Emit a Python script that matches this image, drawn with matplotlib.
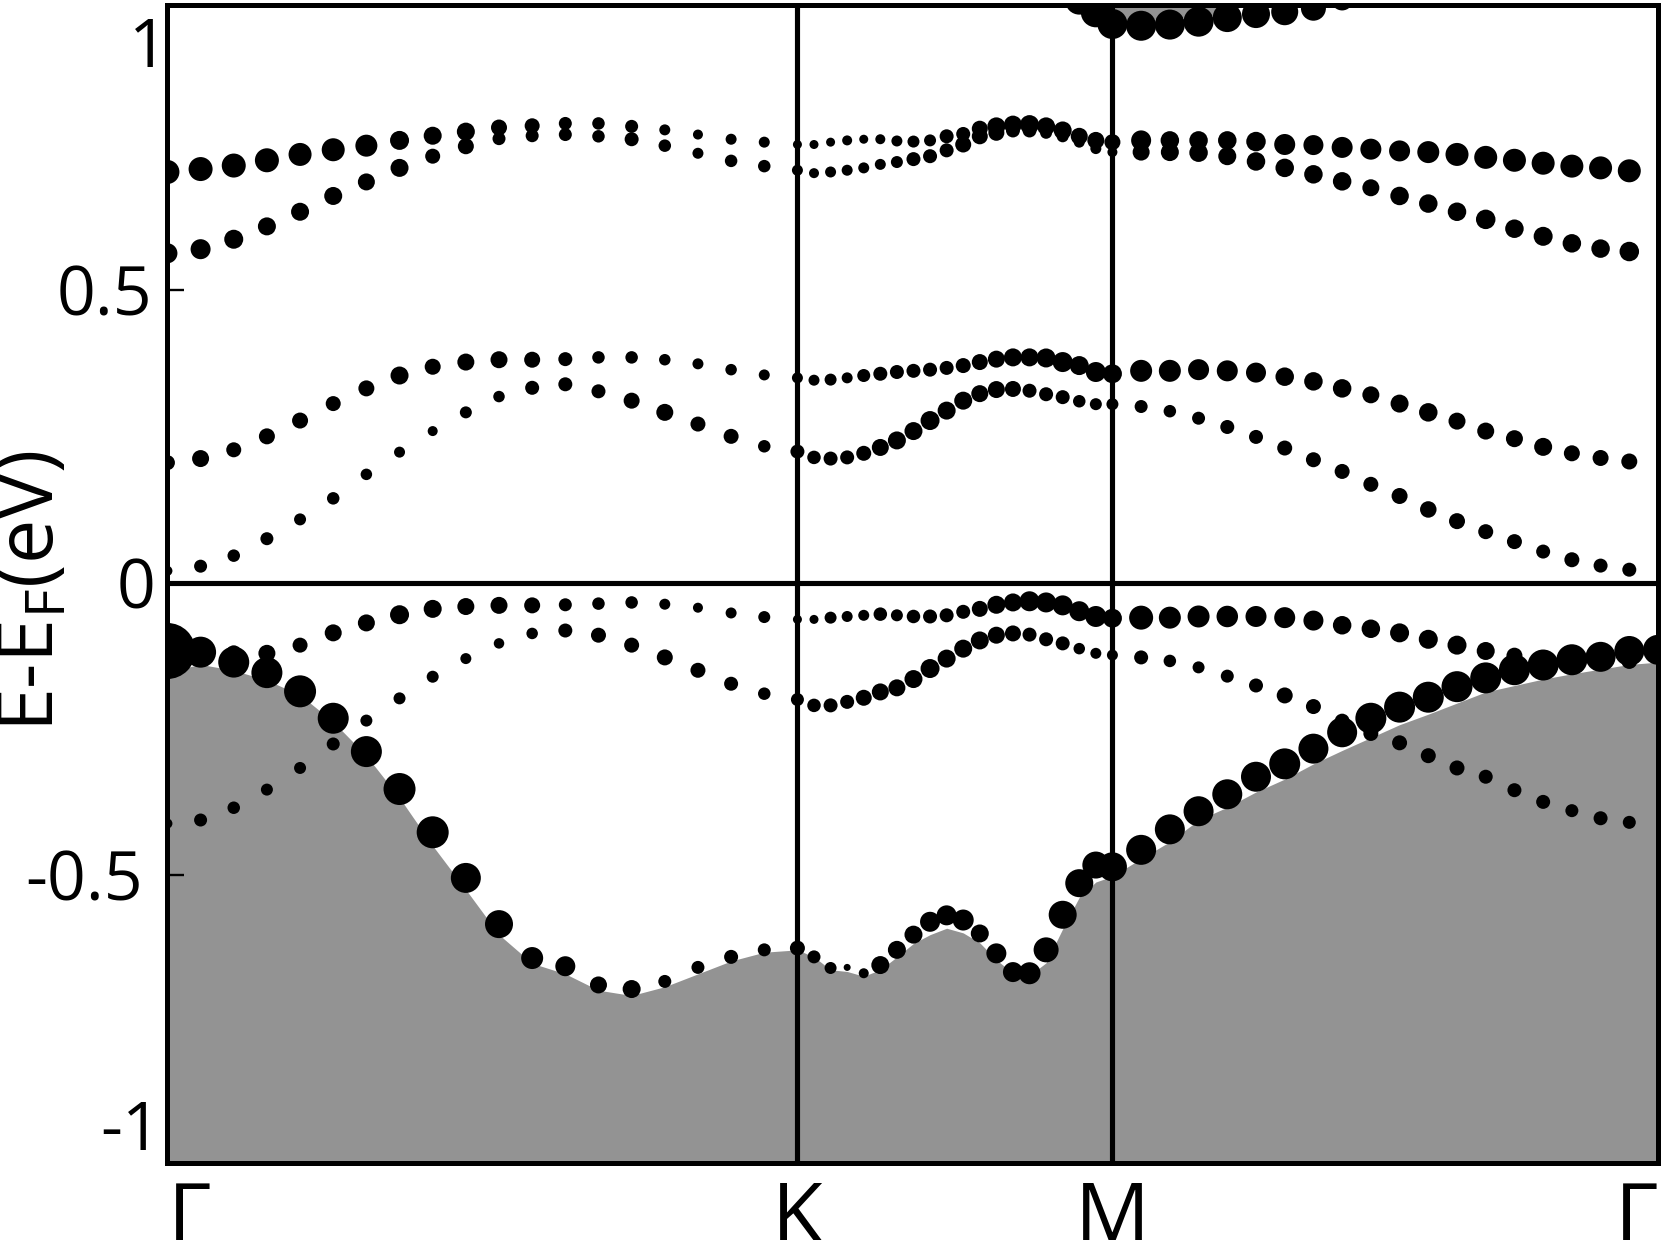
import numpy as np
import matplotlib
matplotlib.use('Agg')
import matplotlib.pyplot as plt
from matplotlib.transforms import ScaledTranslation

plt.rcParams['font.family'] = ['Open Sans', 'DejaVu Sans']
plt.rcParams['mathtext.fontset'] = 'custom'
plt.rcParams['mathtext.rm'] = 'Open Sans'

nan = np.nan

# high-symmetry path G-K-M-G of the hexagonal zone (units of 2pi/a)
seg_len = [4 / 3, 2 / 3, 2 / np.sqrt(3)]
k_labels = ['Γ', 'K', 'M', 'Γ']
ytick_pos = [-0.926, -0.5, 0, 0.5, 0.925]
ytick_lab = ['-1', '-0.5', '0', '0.5', '1']
ytick_shift = [9, -9, 3.5, 0, 16]   # label nudges seen in the original (px)

# band energies E-EF (eV): 20 pts G-K, 19 pts K-M, 19 pts M-G
band_a = [0.702, 0.707, 0.713, 0.722, 0.732, 0.740, 0.747, 0.756, 0.764, 0.771, 0.778, 0.781, 0.785, 0.785, 0.780, 0.774, 0.766, 0.758, 0.753, 0.749,
          0.749, 0.753, 0.756, 0.758, 0.758, 0.755, 0.754, 0.756, 0.763, 0.767, 0.776, 0.780, 0.783, 0.783, 0.780, 0.773, 0.763, 0.756, 0.753,
          0.756, 0.756, 0.756, 0.756, 0.754, 0.749, 0.748, 0.744, 0.741, 0.738, 0.736, 0.732, 0.727, 0.722, 0.717, 0.712, 0.709, 0.704, nan]
band_b = [0.563, 0.570, 0.587, 0.609, 0.634, 0.661, 0.685, 0.709, 0.729, 0.746, 0.759, 0.764, 0.766, 0.763, 0.758, 0.747, 0.734, 0.721, 0.712, 0.705,
          0.700, 0.702, 0.705, 0.709, 0.715, 0.719, 0.724, 0.729, 0.739, 0.749, 0.763, 0.769, 0.773, 0.773, 0.769, 0.763, 0.753, 0.742, 0.736,
          0.736, 0.736, 0.735, 0.729, 0.720, 0.709, 0.698, 0.686, 0.675, 0.661, 0.648, 0.634, 0.621, 0.605, 0.592, 0.580, 0.571, 0.566, nan]
band_c = [0.205, 0.212, 0.227, 0.250, 0.277, 0.306, 0.332, 0.354, 0.369, 0.377, 0.381, 0.381, 0.382, 0.385, 0.385, 0.381, 0.374, 0.364, 0.355, 0.350,
          0.346, 0.347, 0.350, 0.354, 0.357, 0.360, 0.362, 0.364, 0.367, 0.371, 0.377, 0.382, 0.385, 0.385, 0.384, 0.377, 0.371, 0.360, 0.357,
          0.362, 0.362, 0.364, 0.362, 0.359, 0.352, 0.344, 0.332, 0.321, 0.306, 0.291, 0.276, 0.259, 0.246, 0.232, 0.221, 0.213, 0.207, nan]
band_d = [0.020, 0.028, 0.046, 0.075, 0.108, 0.144, 0.185, 0.223, 0.259, 0.291, 0.318, 0.333, 0.339, 0.327, 0.311, 0.291, 0.271, 0.250, 0.233, 0.224,
          0.214, 0.212, 0.214, 0.221, 0.231, 0.243, 0.259, 0.277, 0.294, 0.311, 0.323, 0.330, 0.331, 0.328, 0.322, 0.317, 0.310, 0.305, 0.305,
          0.301, 0.293, 0.281, 0.266, 0.249, 0.230, 0.210, 0.190, 0.168, 0.148, 0.125, 0.105, 0.087, 0.070, 0.053, 0.039, 0.029, 0.022, nan]
band_e = [-0.110, -0.119, -0.121, -0.121, -0.107, -0.086, -0.069, -0.055, -0.045, -0.041, -0.039, -0.039, -0.038, -0.036, -0.034, -0.037, -0.043, -0.052, -0.059, -0.063,
          -0.063, -0.060, -0.058, -0.056, -0.054, -0.056, -0.058, -0.058, -0.056, -0.050, -0.045, -0.038, -0.034, -0.032, -0.034, -0.039, -0.049, -0.058, -0.061,
          -0.060, -0.060, -0.058, -0.058, -0.058, -0.060, -0.065, -0.073, -0.079, -0.086, -0.097, -0.107, -0.117, -0.125, -0.130, -0.133, -0.134, -0.134, nan]
band_f = [-0.412, -0.406, -0.385, -0.354, -0.317, -0.276, -0.236, -0.198, -0.161, -0.130, -0.104, -0.087, -0.082, -0.090, -0.107, -0.128, -0.150, -0.173, -0.190, -0.200,
          -0.210, -0.210, -0.204, -0.197, -0.187, -0.180, -0.165, -0.147, -0.130, -0.113, -0.099, -0.090, -0.087, -0.089, -0.097, -0.104, -0.113, -0.121, -0.124,
          -0.128, -0.134, -0.145, -0.160, -0.176, -0.193, -0.212, -0.237, -0.258, -0.274, -0.296, -0.317, -0.332, -0.355, -0.375, -0.390, -0.403, -0.410, nan]
band_g = [-0.117, -0.119, -0.136, -0.154, -0.186, -0.232, -0.289, -0.353, -0.427, -0.505, -0.584, -0.642, -0.656, -0.688, -0.695, -0.682, -0.658, -0.640, -0.628, -0.625,
          -0.640, -0.659, -0.658, -0.668, -0.654, -0.628, -0.602, -0.580, -0.569, -0.577, -0.600, -0.634, -0.666, -0.668, -0.628, -0.568, -0.514, -0.483, -0.486,
          -0.457, -0.422, -0.391, -0.362, -0.332, -0.310, -0.284, -0.256, -0.232, -0.213, -0.196, -0.178, -0.163, -0.149, -0.141, -0.132, -0.127, -0.117, -0.115]
band_h = [nan] * 36 + [0.995, 0.975, 0.955,
          0.952, 0.954, 0.959, 0.966, 0.972, 0.976, 0.982, 0.997] + [nan] * 11

# surface weight -> dot diameter (px)
size_a = [24, 24, 24, 24, 23, 23, 22, 19, 18, 18, 16, 15, 13, 12.5, 13, 11, 10, 11, 11, 9,
          9, 9, 10, 9, 10, 11, 12, 12, 14, 14, 16, 18, 18, 19, 18, 18, 17, 17, 16,
          20, 18.5, 18.5, 18.5, 19.5, 21, 20, 21, 21, 21, 22, 23, 23, 23, 23, 23, 23, 23, 0]
size_b = [20, 20, 19, 18, 18, 18, 17, 18, 15, 16, 13, 13, 13, 12.5, 14, 12.5, 11, 12.5, 12.5, 11,
          10, 11, 11, 11, 11, 12, 14, 14, 14, 16, 16, 16, 14, 14, 12, 12, 11, 11, 10,
          17, 18, 18.5, 18, 18.5, 18.5, 18.5, 18.5, 17, 18.5, 18.5, 18.5, 19.5, 18.5, 19, 18.5, 18.5, 19.5, 0]
size_c = [15, 17, 15, 16, 16, 15, 16, 18, 16, 17, 17, 16, 14, 12.5, 12.5, 11.5, 11, 11.5, 11, 11,
          11, 12, 11, 13, 14, 14, 14, 14, 14, 15, 16, 17, 18, 18, 19, 20, 19, 20, 19,
          22, 22, 21, 21, 20, 18.5, 18.5, 18.5, 17, 18, 18.5, 17, 17, 17, 18, 16, 16, 16, 0]
size_d = [10, 13, 12.5, 13, 12, 12.5, 11.5, 11, 10, 12, 11.5, 14, 14, 14, 16, 17, 15, 15, 12.5, 14,
          13.5, 14, 14, 15, 17, 18, 18, 19, 18, 18, 17, 17, 16, 14, 14, 14, 12.5, 12, 12,
          13, 12.5, 13, 14, 14, 15, 15, 15, 15, 16, 16.5, 16, 15, 15, 14, 15, 14, 14, 0]
size_e = [20, 18, 16, 17, 15, 17, 17, 19, 18, 17, 17, 16, 13, 12.5, 12.5, 11, 10, 11, 12, 9,
          9, 12, 11, 11, 13.5, 12, 13.5, 14, 14, 14, 16, 18, 18, 20, 20, 20, 20, 21, 19,
          24, 22, 22, 21.5, 21, 21, 20, 18.5, 18.5, 19, 19, 19, 18, 16, 16, 16, 16, 16, 0]
size_f = [10, 13, 12.5, 12, 12, 13, 12, 12, 12, 11, 10.5, 11.5, 14, 15, 15, 16, 15, 14, 12.5, 13,
          13.5, 14, 14, 16, 17, 17, 18, 19, 18, 18, 18, 17, 16, 14, 14, 14, 11.5, 11, 11,
          14, 12.5, 12, 13, 14, 16, 15, 15, 15, 15, 15, 15, 14, 14, 14, 13, 14, 13, 0]
size_g = [56, 31, 31, 31, 32, 31, 31, 32, 32, 30, 28, 22, 20, 17, 18, 13, 13, 14, 13, 15,
          13, 12, 7, 10, 18, 18, 18, 20, 20, 21, 18, 20, 20, 22, 25, 28, 28, 27, 29,
          30, 30, 30, 30, 30, 31, 30, 30, 31, 31, 31, 31, 31, 31, 31, 31, 30, 30, 30]
size_h = [0] * 36 + [28, 30, 30,
          30, 30, 30, 29, 28, 27, 25, 22] + [0] * 11

# projected bulk bands: top of valence continuum, bottom of conduction continuum
vb_top = [-0.152, -0.140, -0.150, -0.167, -0.192, -0.238, -0.296, -0.368, -0.450, -0.525, -0.602, -0.651, -0.669, -0.697, -0.706, -0.691, -0.669, -0.647, -0.632, -0.628,
          -0.640, -0.662, -0.665, -0.673, -0.662, -0.640, -0.617, -0.602, -0.591, -0.599, -0.616, -0.645, -0.668, -0.672, -0.650, -0.592, -0.538, -0.512, -0.502,
          -0.472, -0.443, -0.406, -0.384, -0.358, -0.336, -0.310, -0.287, -0.265, -0.243, -0.225, -0.206, -0.187, -0.176, -0.165, -0.156, -0.148, -0.140, -0.136]
cb_bot = [nan] * 38 + [0.962,
          0.962, 0.965, 0.968, 0.972, 1.0] + [nan] * 14


def main():
    k_nodes = np.concatenate([[0], np.cumsum(seg_len)])
    k = np.concatenate([np.linspace(k_nodes[0], k_nodes[1], 20),
                        np.linspace(k_nodes[1], k_nodes[2], 20)[1:],
                        np.linspace(k_nodes[2], k_nodes[3], 20)[1:]])

    fig = plt.figure(figsize=(16.61, 12.40), dpi=100)
    ax = fig.add_axes([0.1008, 0.0623, 0.8974, 0.9339])

    gray = '#939393'
    ax.fill_between(k, -1.5, vb_top, color=gray, lw=0, zorder=1)
    ax.fill_between(k, cb_bot, 1.5, color=gray, lw=0, zorder=1)

    bands = [band_a, band_b, band_c, band_d, band_e, band_f, band_g, band_h]
    sizes = [size_a, size_b, size_c, size_d, size_e, size_f, size_g, size_h]
    for e, d in zip(bands, sizes):
        s = (np.array(d, dtype=float) * 0.72) ** 2
        ax.scatter(k, e, s=s, c='black', linewidths=0, zorder=2)

    for kn in k_nodes[1:-1]:
        ax.axvline(kn, color='black', lw=3.7, zorder=3)
    ax.axhline(0, color='black', lw=3.7, zorder=3)

    ax.set_xlim(k_nodes[0], k_nodes[-1])
    ax.set_ylim(-0.992, 0.988)

    ax.set_xticks(k_nodes)
    ax.set_xticklabels(k_labels, fontsize=60)
    for lab, ha in zip(ax.get_xticklabels(), ['left', 'center', 'center', 'right']):
        lab.set_horizontalalignment(ha)
    ax.tick_params(axis='x', length=0, pad=12)

    ax.set_yticks(ytick_pos)
    ax.set_yticklabels(ytick_lab, fontsize=49)
    ax.tick_params(axis='y', direction='in', length=12, width=1.7, pad=11)
    yt = ax.yaxis.get_major_ticks()
    yt[0].tick1line.set_visible(False)
    yt[-1].tick1line.set_visible(False)
    for t, dx in zip(yt, ytick_shift):
        lab = t.label1
        lab.set_transform(lab.get_transform() + ScaledTranslation(dx / 100, 0, fig.dpi_scale_trans))

    for sp in ax.spines.values():
        sp.set_linewidth(3.6)

    fig.text(-0.004, 0.523, 'E-E$_\\mathregular{F}$(eV)', rotation=90,
             ha='left', va='center', fontsize=57)

    fig.savefig('out.png', dpi=100)


if __name__ == "__main__":
    main()
